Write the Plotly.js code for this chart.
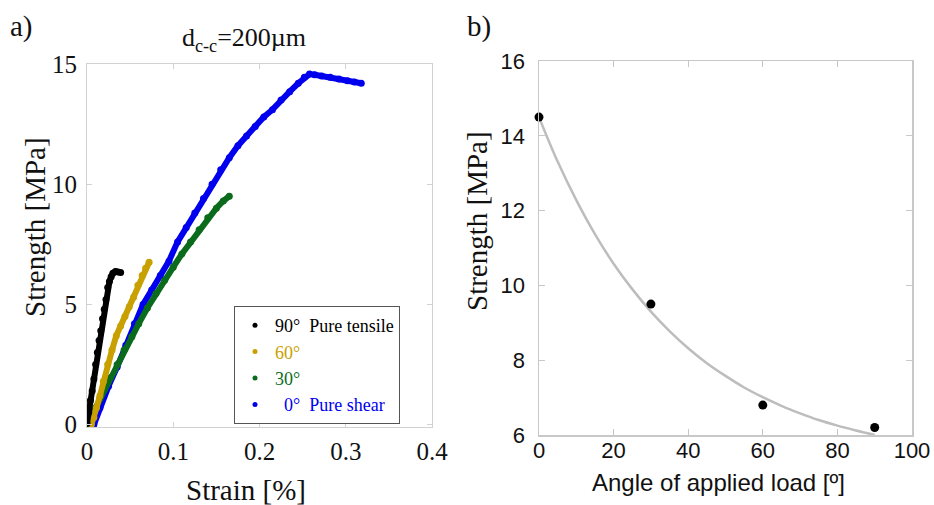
<!DOCTYPE html>
<html>
<head>
<meta charset="utf-8">
<script src="https://cdn.plot.ly/plotly-3.0.1.min.js"></script>
<style>html,body{margin:0;padding:0;background:#fff;}#chart{width:934px;height:505px;}</style>
</head>
<body>
<div id="chart"></div>
<script>
// ---- Panel a: stress-strain curves ----
const strain90 = [0.000, 0.002, 0.004, 0.006, 0.008, 0.010, 0.012, 0.014, 0.016, 0.018, 0.020, 0.022, 0.024, 0.026, 0.028, 0.030, 0.033, 0.036, 0.039];
const stress90 = [0.05, 0.5, 1.0, 1.4, 1.9, 2.5, 3.0, 3.5, 3.9, 4.4, 4.8, 5.2, 5.7, 5.95, 6.15, 6.3, 6.37, 6.35, 6.33];

const strain60 = [0.005, 0.008, 0.011, 0.015, 0.019, 0.024, 0.029, 0.034, 0.039, 0.044, 0.049, 0.054, 0.059, 0.064, 0.068, 0.072];
const stress60 = [0.0, 0.3, 0.7, 1.2, 1.8, 2.5, 3.1, 3.7, 4.1, 4.5, 4.9, 5.3, 5.8, 6.2, 6.5, 6.75];

const strain30 = [0.000, 0.005, 0.010, 0.015, 0.020, 0.027, 0.035, 0.043, 0.052, 0.060, 0.070, 0.080, 0.090, 0.100, 0.110, 0.120, 0.130, 0.140, 0.150, 0.158, 0.165];
const stress30 = [0.0, 0.35, 0.7, 1.1, 1.45, 1.95, 2.5, 3.1, 3.65, 4.2, 4.85, 5.45, 6.0, 6.55, 7.1, 7.6, 8.1, 8.6, 9.0, 9.3, 9.5];

const strain0 = [0.008, 0.015, 0.025, 0.035, 0.045, 0.055, 0.065, 0.075, 0.085, 0.095, 0.105, 0.115, 0.125, 0.135, 0.145, 0.155, 0.165, 0.175, 0.185, 0.195, 0.205, 0.215, 0.225, 0.235, 0.245, 0.252, 0.258, 0.264, 0.272, 0.282, 0.292, 0.302, 0.310, 0.318];
const stress0 = [0.0, 0.7, 1.6, 2.4, 3.3, 4.2, 5.0, 5.6, 6.2, 6.8, 7.6, 8.2, 8.8, 9.4, 10.0, 10.6, 11.1, 11.6, 12.0, 12.4, 12.8, 13.1, 13.5, 13.85, 14.2, 14.45, 14.58, 14.55, 14.5, 14.45, 14.38, 14.3, 14.25, 14.2];

const seriesNames = ['90°\u00a0\u00a0Pure tensile', '60°', '30°', '\u00a0\u00a00°\u00a0\u00a0Pure shear'];

const xTicksA = [0, 0.1, 0.2, 0.3, 0.4];
const xTickTextA = ['0', '0.1', '0.2', '0.3', '0.4'];
const yTicksA = [0, 5, 10, 15];
const yTickTextA = ['0', '5', '10', '15'];

// ---- Panel b: strength vs angle ----
const angles = [0, 30, 60, 90];
const strengths = [14.5, 9.5, 6.8, 6.2];
const fitAngle = [0, 5, 10, 15, 20, 25, 30, 35, 40, 45, 50, 55, 60, 65, 70, 75, 80, 85, 90];
const fitStrength = [14.50, 13.31, 12.28, 11.37, 10.58, 9.90, 9.30, 8.78, 8.32, 7.92, 7.58, 7.27, 7.01, 6.78, 6.58, 6.40, 6.25, 6.12, 6.00];
const xTicksB = [0, 20, 40, 60, 80, 100];
const yTicksB = [6, 8, 10, 12, 14, 16];

const colors = {c90: '#000000', c60: '#c8a000', c30: '#0a6b1c', c0: '#0000ee'};

function curve(x, y, color) {
  return {x: x, y: y, xaxis: 'x', yaxis: 'y', type: 'scatter', mode: 'lines+markers',
    line: {color: color, width: 6}, marker: {color: color, size: 7}, showlegend: false, hoverinfo: 'skip'};
}
function legendItem(name, color) {
  return {x: [null], y: [null], xaxis: 'x', yaxis: 'y', type: 'scatter', mode: 'markers',
    marker: {color: color, size: 5}, name: '<span style="color:' + color + '">' + name + '</span>', showlegend: true};
}

const traces = [
  curve(strain0, stress0, colors.c0),
  curve(strain30, stress30, colors.c30),
  curve(strain60, stress60, colors.c60),
  curve(strain90, stress90, colors.c90),
  legendItem(seriesNames[3], colors.c0),
  legendItem(seriesNames[2], colors.c30),
  legendItem(seriesNames[1], colors.c60),
  legendItem(seriesNames[0], colors.c90),
  {x: fitAngle, y: fitStrength, xaxis: 'x2', yaxis: 'y2', type: 'scatter', mode: 'lines',
   line: {color: '#bdbdbd', width: 2.5, shape: 'spline'}, showlegend: false},
  {x: angles, y: strengths, xaxis: 'x2', yaxis: 'y2', type: 'scatter', mode: 'markers',
   marker: {color: '#000', size: 9}, showlegend: false, cliponaxis: false}
];

const serif = 'Liberation Serif, Times New Roman, serif';
const sans = 'Liberation Sans, Arial, sans-serif';
const frame = '#d2d2d2';
const W = 934, H = 505;
function px(x) { return x / W; }
function py(y) { return 1 - y / H; }

const layout = {
  width: W, height: H,
  margin: {l: 0, r: 0, t: 0, b: 0},
  paper_bgcolor: '#fff', plot_bgcolor: '#fff',
  showlegend: true,
  title: {text: 'd<sub>c-c</sub>=200µm', x: px(244), xanchor: 'center', y: py(37), yanchor: 'middle',
          font: {family: serif, size: 26, color: '#111'}},
  legend: {x: px(234), y: py(306), xanchor: 'left', yanchor: 'top', traceorder: 'reversed',
           bordercolor: '#555', borderwidth: 1, bgcolor: '#fff',
           font: {family: serif, size: 18, color: '#111'}, itemwidth: 30, tracegroupgap: 0},
  xaxis: {domain: [px(87), px(432)], anchor: 'y', range: [0, 0.4], tickvals: xTicksA, ticktext: xTickTextA,
          showline: true, mirror: 'ticks', linecolor: frame, linewidth: 1, ticks: 'inside', ticklen: 5, tickcolor: frame,
          showgrid: false, zeroline: false, ticklabelstandoff: 2,
          tickfont: {family: serif, size: 25, color: '#111'}},
  yaxis: {domain: [py(427), py(64)], anchor: 'x', range: [-0.1, 15], tickvals: yTicksA, ticktext: yTickTextA,
          showline: true, mirror: 'ticks', linecolor: frame, linewidth: 1, ticks: 'inside', ticklen: 5, tickcolor: frame,
          showgrid: false, zeroline: false, ticklabelstandoff: 4,
          tickfont: {family: serif, size: 25, color: '#111'}},
  xaxis2: {domain: [px(539), px(912)], anchor: 'y2', range: [0, 100], tickvals: xTicksB,
          showline: true, mirror: 'ticks', linecolor: '#c8c8c8', linewidth: 1.5, ticks: 'inside', ticklen: 6, tickcolor: '#c8c8c8',
          showgrid: false, zeroline: false, ticklabelstandoff: -5,
          tickfont: {family: sans, size: 22, color: '#111'}},
  yaxis2: {domain: [py(435), py(61)], anchor: 'x2', range: [6, 16], tickvals: yTicksB,
          showline: true, mirror: 'ticks', linecolor: '#c8c8c8', linewidth: 1.5, ticks: 'inside', ticklen: 6, tickcolor: '#c8c8c8',
          showgrid: false, zeroline: false, ticklabelstandoff: 8,
          tickfont: {family: sans, size: 22, color: '#111'}},
  annotations: [
    {text: 'a)', xref: 'paper', yref: 'paper', x: px(8), y: py(26), xanchor: 'left', yanchor: 'middle',
     showarrow: false, font: {family: serif, size: 29, color: '#111'}},
    {text: 'b)', xref: 'paper', yref: 'paper', x: px(465), y: py(26), xanchor: 'left', yanchor: 'middle',
     showarrow: false, font: {family: serif, size: 29, color: '#111'}},
    {text: 'Strain [%]', xref: 'paper', yref: 'paper', x: px(246), y: py(490), xanchor: 'center', yanchor: 'middle',
     showarrow: false, font: {family: serif, size: 29, color: '#111'}},
    {text: 'Strength [MPa]', xref: 'paper', yref: 'paper', x: px(35), y: py(227), xanchor: 'center', yanchor: 'middle',
     textangle: -90, showarrow: false, font: {family: serif, size: 29, color: '#111'}},
    {text: 'Angle of applied load [º]', xref: 'paper', yref: 'paper', x: px(718), y: py(482), xanchor: 'center', yanchor: 'middle',
     showarrow: false, font: {family: sans, size: 24, color: '#111'}},
    {text: 'Strength [MPa]', xref: 'paper', yref: 'paper', x: px(477), y: py(221), xanchor: 'center', yanchor: 'middle',
     textangle: -90, showarrow: false, font: {family: serif, size: 29, color: '#111'}}
  ]
};

Plotly.newPlot('chart', traces, layout, {displayModeBar: false, staticPlot: true});
</script>
</body>
</html>
